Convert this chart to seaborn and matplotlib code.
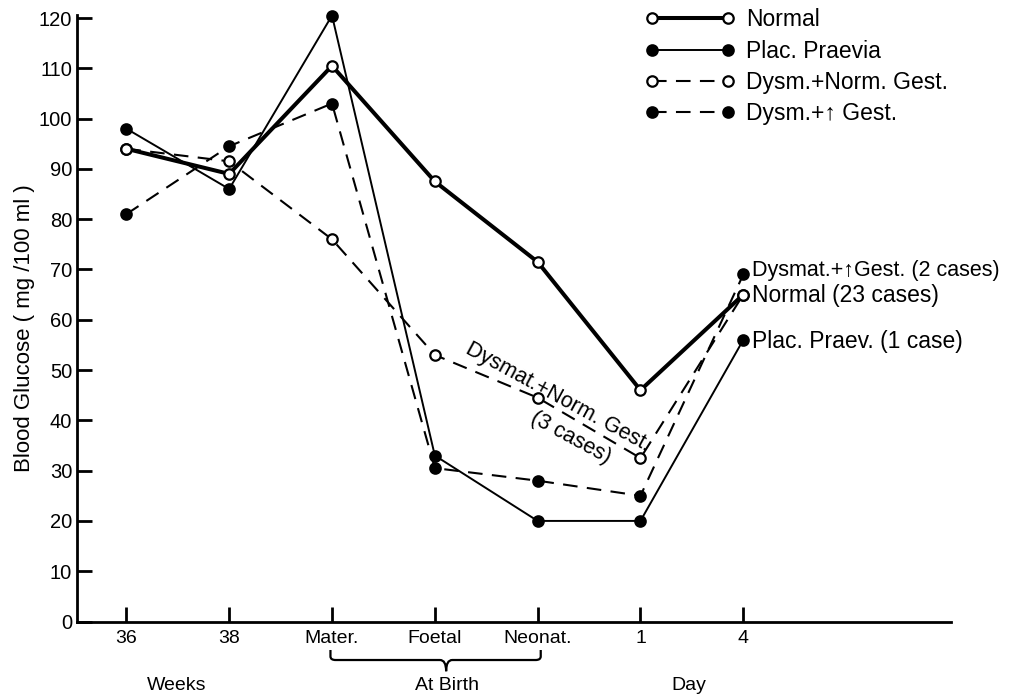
import numpy as np
import pandas as pd
import seaborn as sns
import matplotlib.pyplot as plt
from matplotlib.path import Path
from matplotlib.patches import PathPatch

# Blood glucose (mg/100 ml) at each sampling point
categories = ["36", "38", "Mater.", "Foetal", "Neonat.", "1", "4"]
normal = [94, 89, 110.5, 87.5, 71.5, 46, 65]
plac_praevia = [98, 86, 120.5, 33, 20, 20, 56]
dysm_norm_gest = [94, 91.5, 76, 53, 44.5, 32.5, 65]
dysm_high_gest = [81, 94.5, 103, 30.5, 28, 25, 69]

legend_labels = ["Normal", "Plac. Praevia", "Dysm.+Norm. Gest.", "Dysm.+\u2191 Gest."]
end_labels = ["Dysmat.+\u2191Gest. (2 cases)", "Normal (23 cases)", "Plac. Praev. (1 case)"]

sns.set_style("ticks")
plt.rcParams["font.family"] = ["Liberation Sans", "DejaVu Sans"]
plt.rcParams.update({
    "text.color": "black",
    "axes.labelcolor": "black",
    "xtick.color": "black",
    "ytick.color": "black",
    "axes.edgecolor": "black",
})

pos = np.arange(len(categories))
df = pd.DataFrame({
    "pos": np.tile(pos, 4),
    "glucose": normal + plac_praevia + dysm_norm_gest + dysm_high_gest,
    "group": np.repeat(legend_labels, len(categories)),
})

fig = plt.figure(figsize=(10.11, 6.99), dpi=100)
ax = fig.add_axes([77 / 1011, 1 - 621.5 / 699, (951 - 77) / 1011, (621.5 - 15) / 699])

dash = (0, (7, 4.5))
styles = {
    "Normal": dict(lw=2.9, ls="-", mfc="white", zorder=4),
    "Plac. Praevia": dict(lw=1.4, ls="-", mfc="black", zorder=3),
    "Dysm.+Norm. Gest.": dict(lw=1.5, ls=dash, mfc="white", zorder=5),
    "Dysm.+\u2191 Gest.": dict(lw=1.5, ls=dash, mfc="black", zorder=3),
}

for name in legend_labels:
    st = styles[name]
    sub = df[df["group"] == name]
    sns.lineplot(data=sub, x="pos", y="glucose", ax=ax, color="black",
                 linewidth=st["lw"], linestyle=st["ls"], marker="o", markersize=7.5,
                 markerfacecolor=st["mfc"], markeredgecolor="black", markeredgewidth=1.6,
                 label=name, zorder=st["zorder"], clip_on=False, sort=False)

ax.set_xlim(-0.48, 8.02)
ax.set_ylim(0, 120.6)
ax.set_xticks(pos)
ax.set_xticklabels(categories, fontsize=14)
ax.set_yticks(np.arange(0, 121, 10))
ax.set_yticklabels([str(v) for v in range(0, 121, 10)], fontsize=14.5)
ax.tick_params(axis="both", direction="in", length=11, width=2, color="black",
               labelcolor="black")
ax.tick_params(axis="y", pad=3.5)
ax.tick_params(axis="x", pad=6)
ax.set_xlabel("")
ax.set_ylabel("")
sns.despine(ax=ax)
for s in ("left", "bottom"):
    ax.spines[s].set_linewidth(2)
    ax.spines[s].set_color("black")

# Legend: markers at both ends of each sample line
handles, labels = ax.get_legend_handles_labels()
ax.legend(handles, labels, loc="upper left", bbox_to_anchor=(645 / 1011, 0.988),
          bbox_transform=fig.transFigure, frameon=False, numpoints=2,
          handlelength=3.9, handletextpad=0.5, labelspacing=0.36,
          borderpad=0, borderaxespad=0, fontsize=16.5)

# End-of-line group labels
ends = [dysm_high_gest[-1], normal[-1], plac_praevia[-1]]
offsets = [0.7, -0.1, -0.3]
sizes = [15.5, 16.5, 16.5]
for txt, yv, dy, fs in zip(end_labels, ends, offsets, sizes):
    ax.text(pos[-1] + 0.085, yv + dy, txt, ha="left", va="center", fontsize=fs)

# Label along the Dysmat.+Norm. Gest. curve
ax.text(4.20, 44.7, "Dysmat.+Norm. Gest.", rotation=-28.5, rotation_mode="anchor",
        ha="center", va="center", fontsize=15.5)
ax.text(4.32, 36.6, "(3 cases)", rotation=-28.5, rotation_mode="anchor",
        ha="center", va="center", fontsize=15.5)

# Brace grouping the three birth samples
tr = ax.get_xaxis_transform()
x0, xm, x1 = 1.985, 3.11, 4.03
y_top, y_mid, y_tip = -0.047, -0.0635, -0.082
verts = [
    (x0, y_top), (x0, y_mid + 0.006), (x0, y_mid), (x0 + 0.05, y_mid),
    (xm - 0.06, y_mid), (xm, y_mid), (xm, y_tip),
    (xm, y_mid), (xm + 0.06, y_mid),
    (x1 - 0.05, y_mid), (x1, y_mid), (x1, y_mid + 0.006), (x1, y_top),
]
codes = [
    Path.MOVETO, Path.LINETO, Path.CURVE3, Path.CURVE3,
    Path.LINETO, Path.CURVE3, Path.CURVE3,
    Path.CURVE3, Path.CURVE3,
    Path.LINETO, Path.CURVE3, Path.CURVE3, Path.LINETO,
]
ax.add_patch(PathPatch(Path(verts, codes), transform=tr, fill=False,
                       edgecolor="black", lw=1.6, clip_on=False))

# Time-scale captions under the axis
fig.text(177 / 1011, 1 - 685 / 699, "Weeks", ha="center", va="center", fontsize=14)
fig.text(447 / 1011, 1 - 685 / 699, "At Birth", ha="center", va="center", fontsize=14)
fig.text(689 / 1011, 1 - 685 / 699, "Day", ha="center", va="center", fontsize=14)

fig.text(25 / 1011, 1 - 328 / 699, "Blood Glucose ( mg /100 ml )", rotation=90,
         ha="center", va="center", fontsize=16)

fig.savefig("out.png", dpi=100, facecolor="white")
